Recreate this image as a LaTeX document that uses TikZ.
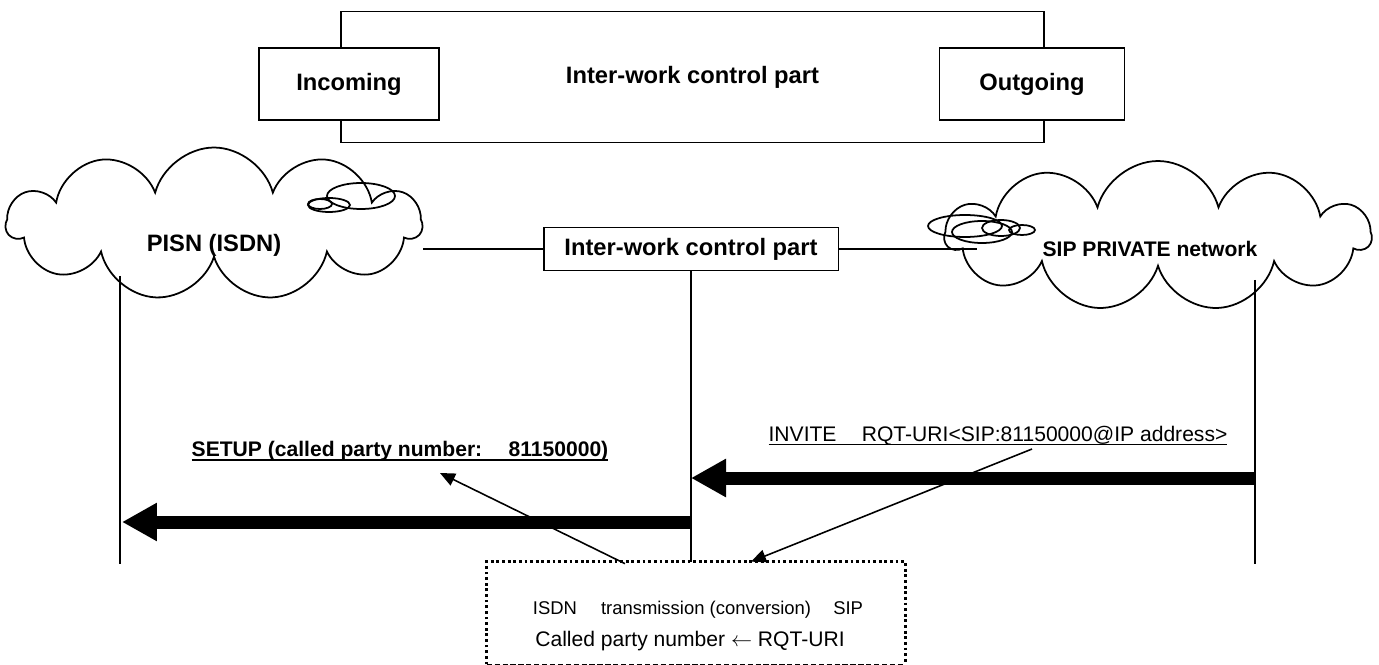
\documentclass[tikz,border=0pt]{standalone}
\usepackage{fontspec}
\setmainfont{Liberation Sans}
\usetikzlibrary{arrows.meta,shapes.symbols,positioning}

\newcommand{\undertext}[3][0.6pt]{\setbox0=\hbox{#3}\rlap{\rule[#2]{\wd0}{#1}}\box0}

\tikzset{
  box/.style={draw,line width=1.1pt,fill=white,font=\fontsize{13.5}{16}\selectfont\bfseries},
  netcloud/.style={cloud,draw,line width=1pt,cloud puffs=11,cloud ignores aspect},
  bubble/.style={line width=1pt},
  lifeline/.style={line width=0.9pt},
  msg/.style={line width=7.4pt,-{Triangle[length=0.7cm,width=0.72cm]}},
  pointer/.style={line width=0.9pt,-{Triangle[length=0.3cm,width=0.26cm]}},
  msgtext/.style={font=\fontsize{12}{14}\selectfont,inner sep=1pt},
  dotbox/.style={line width=1.5pt,dash pattern=on 1.6pt off 1.6pt},
}

\begin{document}
\begin{tikzpicture}[x=0.02cm,y=-0.02cm]
\useasboundingbox (0,0) rectangle (1379,665);

% inter-work unit
\node[box,minimum width=14.06cm,minimum height=2.62cm] (frame) at (692.5,77) {Inter-work control part};
\node[box,minimum width=3.6cm,minimum height=1.44cm] (inc) at (349,84) {Incoming};
\node[box,minimum width=3.7cm,minimum height=1.44cm] (outg) at (1032,84) {Outgoing};

% networks
\node[netcloud,minimum width=8.3cm,minimum height=3.06cm] (pisn) at (214,224) {};
\node[font=\fontsize{13.5}{16}\selectfont\bfseries] (pisnname) at (214,245) {PISN (ISDN)};
\node[netcloud,minimum width=8.5cm,minimum height=3cm] (sip) at (1158,236) {};
\node[font=\fontsize{12}{14}\selectfont\bfseries] (sipname) at (1150,249) {SIP PRIVATE network};
\draw[bubble] (361,196) ellipse [x radius=0.68cm,y radius=0.26cm];
\draw[bubble] (329,205) ellipse [x radius=0.42cm,y radius=0.14cm];
\draw[bubble] (320,204) ellipse [x radius=0.24cm,y radius=0.1cm];
\draw[bubble] (965,226) ellipse [x radius=0.74cm,y radius=0.22cm];
\draw[bubble] (982,232) ellipse [x radius=0.6cm,y radius=0.22cm];
\draw[bubble] (1001,228) ellipse [x radius=0.38cm,y radius=0.16cm];
\draw[bubble] (1022,230) ellipse [x radius=0.26cm,y radius=0.1cm];

\node[box,minimum width=5.9cm,minimum height=0.86cm] (iw) at (691,249) {Inter-work control part};
\coordinate (sipjoin) at (977,249);
\draw[lifeline] (iw.west) -- (pisn.east |- iw.west);
\draw[lifeline] (iw.east) -- (sipjoin);

% lifelines
\coordinate (pisntop) at (120,276);
\coordinate (pisnend) at (120,564);
\coordinate (siptop) at (1255,280);
\coordinate (sipend) at (1255,564);
\coordinate (iwend) at (691,562);
\draw[lifeline] (pisntop) -- (pisnend);
\draw[lifeline] (iw.south) -- (iwend);
\draw[lifeline] (siptop) -- (sipend);

% messages
\coordinate (invitefrom) at (1255,478);
\coordinate (inviteto) at (691,478);
\coordinate (setupfrom) at (691,522);
\coordinate (setupto) at (122,522);
\draw[msg] (invitefrom) -- (inviteto);
\draw[msg] (setupfrom) -- (setupto);
\node[msgtext] (invite) at (998,436) {\undertext{-1.8pt}{INVITE\hspace{1.2em}RQT-URI<SIP:81150000@IP address>}};
\node[msgtext] (setup) at (400,451) {\undertext[1.1pt]{-2.6pt}{\bfseries SETUP (called party number:\hspace{1.25em}81150000)}};

% conversion note
\node[minimum width=8.36cm,minimum height=2.04cm] (conv) at (696,613) {};
\draw[dotbox] (conv.south west) -- (conv.north west) -- (conv.north east) -- (conv.south east);
\draw[line width=0.5pt,dash pattern=on 3pt off 1.5pt] (conv.south west) -- (conv.south east);
\node[font=\fontsize{10.5}{12}\selectfont] (convhead) at (698,610) {ISDN\hspace{1.3em}transmission (conversion)\hspace{1.2em}SIP};
\node[font=\fontsize{12}{14}\selectfont] (convrule) at (690,641) {Called party number $\leftarrow$ RQT-URI};

\coordinate (inviteref) at (1032,449);
\coordinate (setupref) at (440,473);
\draw[pointer] (inviteref) -- ([xshift=1.1cm]conv.north);
\draw[pointer] ([xshift=-1.42cm,yshift=-0.04cm]conv.north) -- (setupref);
\end{tikzpicture}
\end{document}
